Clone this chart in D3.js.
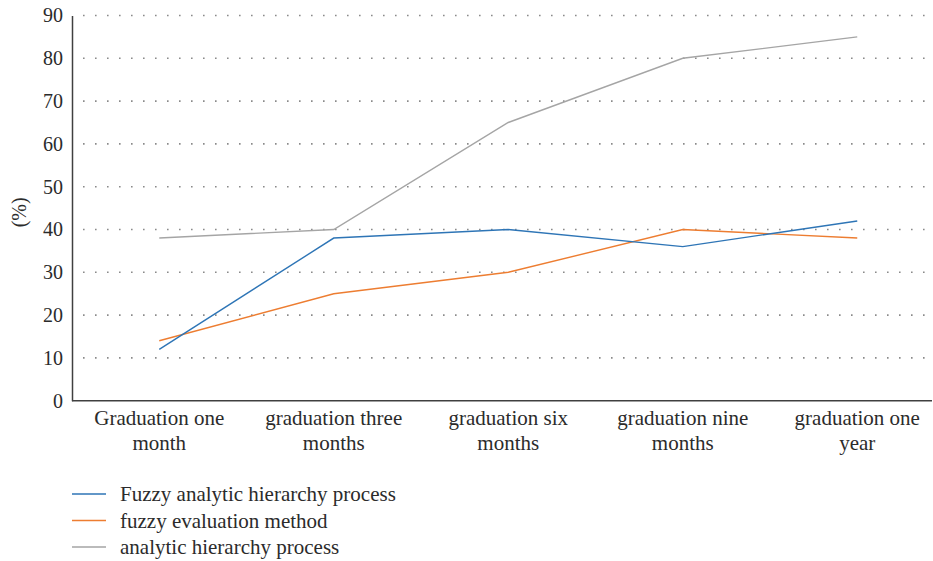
<!DOCTYPE html>
<html>
<head>
<meta charset="utf-8">
<script src="https://cdn.jsdelivr.net/npm/d3@7"></script>
</head>
<body style="margin:0">
<script>
const categories = [
    ["Graduation one", "month"],
    ["graduation three", "months"],
    ["graduation six", "months"],
    ["graduation nine", "months"],
    ["graduation one", "year"]
];
const seriesNames = ["Fuzzy analytic hierarchy process", "fuzzy evaluation method", "analytic hierarchy process"];
const fahpValues = [12, 38, 40, 36, 42];
const fuzzyEvalValues = [14, 25, 30, 40, 38];
const ahpValues = [38, 40, 65, 80, 85];
const yTicks = [0, 10, 20, 30, 40, 50, 60, 70, 80, 90];
const colors = ["#2e75b6", "#ed7d31", "#a5a5a5"];

const TEXT_COLOR = "#2b2b2b";

// apply the serif face to a text selection
function serif(sel, size) {
    return sel
        .attr("font-family", "Liberation Serif")
        .style("font-family", "'Liberation Serif'")
        .style("font-size", (size || 21) + "px")
        .attr("fill", TEXT_COLOR);
}

const width = 933, height = 561;
const svg = d3.select("body").append("svg")
    .attr("width", width)
    .attr("height", height);

const x = d3.scaleBand()
    .domain(d3.range(categories.length))
    .range([72, 944.5]);

const y = d3.scaleLinear()
    .domain([0, 90])
    .range([400.7, 15.5]);

// dotted grid
svg.append("g")
    .selectAll("line")
    .data(yTicks.slice(1))
    .enter().append("line")
    .attr("x1", 83)
    .attr("x2", 932)
    .attr("y1", d => y(d))
    .attr("y2", d => y(d))
    .attr("stroke", "#8a8a8a")
    .attr("stroke-width", 1.6)
    .attr("stroke-dasharray", "1.6,10.4");

// y axis
const yAxis = svg.append("g")
    .attr("transform", "translate(72,0)")
    .call(d3.axisLeft(y).tickValues(yTicks).tickSize(0).tickPadding(9));
yAxis.select(".domain").attr("stroke", "#404040").attr("stroke-width", 1.5);
yAxis.selectAll("text").call(serif, 20);

// x axis
const xAxis = svg.append("g")
    .attr("transform", `translate(0,${y(0)})`)
    .call(d3.axisBottom(x).tickSize(0).tickFormat(""));
xAxis.select(".domain").attr("stroke", "#404040").attr("stroke-width", 1.5)
    .attr("d", "M72,0H932");

xAxis.selectAll(".tick").each(function (i) {
    const t = d3.select(this).append("text")
        .attr("text-anchor", "middle")
        .call(serif);
    categories[i].forEach((line, k) => {
        t.append("tspan").attr("x", 0).attr("y", 24 + k * 25).text(line);
    });
});

// y title
svg.append("text")
    .attr("transform", `translate(26,${y(44)}) rotate(-90)`)
    .attr("text-anchor", "middle")
    .call(serif, 20)
    .text("(%)");

const allSeries = [fahpValues, fuzzyEvalValues, ahpValues];
const line = d3.line()
    .x((d, i) => x(i) + x.bandwidth() / 2)
    .y(d => y(d));

// gray first so the colored lines sit on top
[2, 1, 0].forEach(s => {
    svg.append("path")
        .datum(allSeries[s])
        .attr("d", line)
        .attr("fill", "none")
        .attr("stroke", colors[s])
        .attr("stroke-width", 1.4);
});

// legend
const legend = svg.append("g");
seriesNames.forEach((name, i) => {
    const ly = 494 + i * 26.5;
    legend.append("line")
        .attr("x1", 72).attr("x2", 106)
        .attr("y1", ly).attr("y2", ly)
        .attr("stroke", colors[i])
        .attr("stroke-width", 1.4);
    legend.append("text")
        .attr("x", 120)
        .attr("y", ly + 7)
        .call(serif)
        .text(name);
});
</script>
</body>
</html>
